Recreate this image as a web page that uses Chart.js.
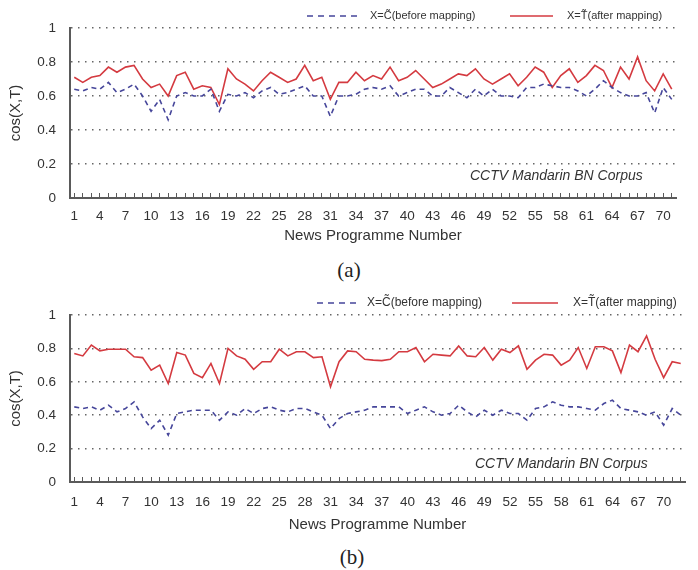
<!DOCTYPE html>
<html>
<head>
<meta charset="utf-8">
<script src="https://cdn.jsdelivr.net/npm/chart.js@4.4.1/dist/chart.umd.min.js"></script>
<style>
  body { margin: 0; background: #fff; width: 698px; height: 570px; overflow: hidden; position: relative; }
  canvas { position: absolute; left: 0; }
  #chartA { top: 0; }
  #chartB { top: 287px; }
  .caption { position: absolute; font-family: "Liberation Serif", "Times New Roman", serif; font-size: 21px; line-height: 24px; color: #222; transform: translateX(-50%); }
</style>
</head>
<body>
<canvas id="chartA" width="698" height="250"></canvas>
<canvas id="chartB" width="698" height="250"></canvas>
<div class="caption" style="left:349px; top:258px">(a)</div>
<div class="caption" style="left:352px; top:545px">(b)</div>
<script>
// programme numbers (a has 71, b has 72)
const programmesA = [1,2,3,4,5,6,7,8,9,10,11,12,13,14,15,16,17,18,19,20,21,22,23,24,25,26,27,28,29,30,
  31,32,33,34,35,36,37,38,39,40,41,42,43,44,45,46,47,48,49,50,51,52,53,54,55,56,57,58,59,60,
  61,62,63,64,65,66,67,68,69,70,71];
const programmesB = [1,2,3,4,5,6,7,8,9,10,11,12,13,14,15,16,17,18,19,20,21,22,23,24,25,26,27,28,29,30,
  31,32,33,34,35,36,37,38,39,40,41,42,43,44,45,46,47,48,49,50,51,52,53,54,55,56,57,58,59,60,
  61,62,63,64,65,66,67,68,69,70,71,72];

// (a)
const beforeA = [0.64, 0.63, 0.65, 0.64, 0.68, 0.62, 0.64, 0.67, 0.60, 0.51,
  0.58, 0.46, 0.60, 0.62, 0.60, 0.60, 0.64, 0.51, 0.61, 0.60,
  0.62, 0.59, 0.63, 0.65, 0.61, 0.62, 0.64, 0.66, 0.60, 0.60,
  0.48, 0.60, 0.60, 0.61, 0.64, 0.65, 0.64, 0.66, 0.60, 0.62,
  0.64, 0.64, 0.60, 0.60, 0.65, 0.62, 0.59, 0.64, 0.60, 0.64,
  0.60, 0.60, 0.59, 0.65, 0.65, 0.67, 0.66, 0.65, 0.65, 0.63,
  0.60, 0.64, 0.69, 0.65, 0.62, 0.60, 0.60, 0.62, 0.50, 0.65, 0.58];
const afterA = [0.71, 0.68, 0.71, 0.72, 0.77, 0.74, 0.77, 0.78, 0.70, 0.65,
  0.67, 0.60, 0.72, 0.74, 0.64, 0.66, 0.65, 0.55, 0.76, 0.70,
  0.67, 0.63, 0.69, 0.74, 0.71, 0.68, 0.70, 0.78, 0.69, 0.71,
  0.58, 0.68, 0.68, 0.74, 0.69, 0.72, 0.70, 0.77, 0.69, 0.71,
  0.75, 0.70, 0.65, 0.67, 0.70, 0.73, 0.72, 0.76, 0.70, 0.67,
  0.70, 0.73, 0.66, 0.71, 0.77, 0.74, 0.65, 0.72, 0.76, 0.68,
  0.72, 0.78, 0.75, 0.65, 0.77, 0.70, 0.83, 0.69, 0.63, 0.73, 0.64];

// (b)
const beforeB = [0.45, 0.44, 0.45, 0.43, 0.46, 0.42, 0.44, 0.48, 0.39, 0.32,
  0.37, 0.28, 0.41, 0.42, 0.43, 0.43, 0.43, 0.37, 0.42, 0.40,
  0.44, 0.41, 0.44, 0.45, 0.43, 0.42, 0.44, 0.44, 0.42, 0.40,
  0.32, 0.38, 0.41, 0.42, 0.43, 0.45, 0.45, 0.45, 0.45, 0.41,
  0.43, 0.45, 0.42, 0.40, 0.41, 0.46, 0.42, 0.39, 0.43, 0.40,
  0.43, 0.41, 0.41, 0.37, 0.44, 0.45, 0.48, 0.46, 0.45, 0.45,
  0.44, 0.43, 0.47, 0.49, 0.44, 0.43, 0.42, 0.40, 0.42, 0.34,
  0.44, 0.40];
const afterB = [0.77, 0.755, 0.82, 0.785, 0.795, 0.795, 0.795, 0.75, 0.745, 0.67,
  0.70, 0.59, 0.775, 0.76, 0.65, 0.625, 0.71, 0.59, 0.80, 0.755,
  0.735, 0.675, 0.72, 0.72, 0.795, 0.755, 0.78, 0.78, 0.745, 0.75,
  0.57, 0.72, 0.785, 0.78, 0.735, 0.73, 0.727, 0.735, 0.78, 0.78,
  0.805, 0.72, 0.765, 0.76, 0.755, 0.815, 0.755, 0.75, 0.805, 0.73,
  0.795, 0.775, 0.815, 0.675, 0.73, 0.765, 0.76, 0.70, 0.73, 0.805,
  0.68, 0.81, 0.81, 0.785, 0.655, 0.82, 0.78, 0.875, 0.735, 0.625,
  0.72, 0.71];

const yTicks = [0, 0.2, 0.4, 0.6, 0.8, 1];
const yTickLabels = ["0", "0.2", "0.4", "0.6", "0.8", "1"];

const labelBefore = "X=C\u0303(before mapping)";
const labelAfter = "X=T\u0303(after mapping)";

const BLUE = "#46469a";
const RED = "#d43a40";
const AXIS = "#5a5a5a";
const TEXT = "#333";
const FONT = "'Liberation Sans', Arial, sans-serif";

// legend line samples + corpus note, drawn on top
const legendNote = {
  id: "legendNote",
  afterDraw(chart, args, o) {
    const ctx = chart.ctx;
    const ds = chart.data.datasets;
    ctx.save();
    ctx.textBaseline = "middle";
    ctx.fillStyle = TEXT;
    ctx.font = o.size + "px " + FONT;
    ctx.lineWidth = 1.6;

    ctx.strokeStyle = BLUE;
    ctx.setLineDash([6, 5]);
    ctx.beginPath();
    ctx.moveTo(o.blue[0], o.y);
    ctx.lineTo(o.blue[1], o.y);
    ctx.stroke();
    ctx.fillText(ds[0].label, o.blue[2], o.y);

    ctx.strokeStyle = RED;
    ctx.setLineDash([]);
    ctx.beginPath();
    ctx.moveTo(o.red[0], o.y);
    ctx.lineTo(o.red[1], o.y);
    ctx.stroke();
    ctx.fillText(ds[1].label, o.red[2], o.y);

    ctx.font = "italic 14px " + FONT;
    ctx.fillText("CCTV Mandarin BN Corpus", o.note[0], o.note[1]);
    ctx.restore();
  }
};

function makeChart(id, labels, before, after, lay) {
  const ctx = document.getElementById(id).getContext("2d");
  return new Chart(ctx, {
    type: "line",
    data: {
      labels: labels,
      datasets: [
        { label: labelBefore, data: before, borderColor: BLUE, borderWidth: 1.6, borderDash: [5, 4], pointRadius: 0, tension: 0, fill: false },
        { label: labelAfter, data: after, borderColor: RED, borderWidth: 1.6, pointRadius: 0, tension: 0, fill: false }
      ]
    },
    options: {
      responsive: false,
      animation: false,
      layout: { padding: { left: 0, right: lay.right, top: 28, bottom: 0 } },
      plugins: {
        legend: { display: false },
        tooltip: { enabled: false },
        legendNote: lay.legend
      },
      scales: {
        x: {
          type: "category",
          offset: true,
          grid: { drawOnChartArea: false, drawTicks: true, tickLength: -5, tickColor: AXIS, tickWidth: 1 },
          border: { display: true, color: AXIS, width: 2 },
          ticks: {
            autoSkip: false, maxRotation: 0, minRotation: 0,
            padding: lay.xPad, color: TEXT, font: { size: 13.5, family: FONT },
            callback: (v, i) => (i % 3 === 0 ? labels[i] : "")
          },
          title: { display: true, text: "News Programme Number", color: TEXT, font: { size: 15, family: FONT }, padding: { top: 0, bottom: lay.titlePad } },
          afterFit: s => { s.height = lay.xHeight; }
        },
        y: {
          min: yTicks[0],
          max: yTicks[yTicks.length - 1],
          afterBuildTicks: s => { s.ticks = yTicks.map(v => ({ value: v })); },
          ticks: {
            padding: 14, color: TEXT, font: { size: 13.5, family: FONT },
            callback: (v, i) => yTickLabels[i]
          },
          grid: { drawTicks: false, color: "#666", lineWidth: 1.5 },
          border: { display: true, color: AXIS, width: 2, dash: [1.5, 5.5] },
          title: { display: true, text: "cos(X,T)", color: TEXT, font: { size: 15, family: FONT }, padding: { top: 7, bottom: 0 } },
          afterFit: s => { s.width = 70; }
        }
      }
    },
    plugins: [legendNote]
  });
}

makeChart("chartA", programmesA, beforeA, afterA, {
  right: 22, xHeight: 52, xPad: 15, titlePad: 5,
  legend: { y: 16, size: 11, blue: [307, 360, 370], red: [510, 553, 567], note: [470, 176] }
});

makeChart("chartB", programmesB, beforeB, afterB, {
  right: 13, xHeight: 55, xPad: 17, titlePad: 3,
  legend: { y: 16, size: 12, blue: [317, 360, 367], red: [512, 558, 573], note: [475, 177] }
});
</script>
</body>
</html>
